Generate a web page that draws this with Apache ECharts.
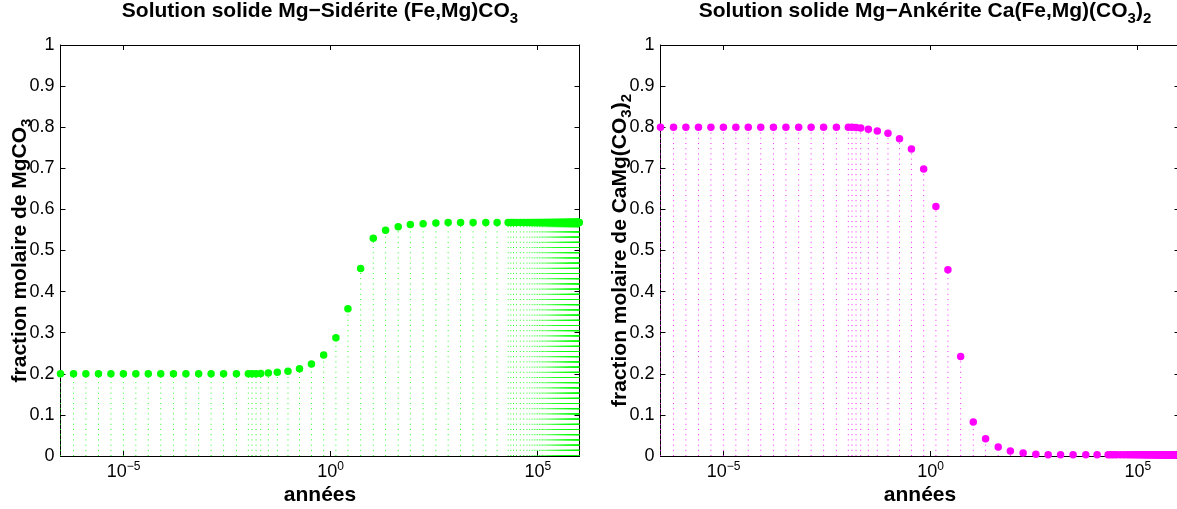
<!DOCTYPE html>
<html><head><meta charset="utf-8">
<script src="https://cdn.jsdelivr.net/npm/echarts@6/dist/echarts.min.js"></script>
<style>html,body{margin:0;padding:0;background:#fff}#c{width:1177px;height:509px}</style>
</head><body><div id="c"></div>
<script>
// ---- data (years) ----
const times = [
  3.0e-7, 6.2e-7, 1.23e-6, 2.48e-6, 4.95e-6, 9.9e-6, 1.98e-5, 3.95e-5, 7.9e-5, 1.6e-4,
  3.2e-4, 6.5e-4, 1.3e-3, 2.6e-3, 5.3e-3,
  0.0103, 0.0126, 0.0158, 0.0205, 0.0313, 0.0515, 0.0933, 0.177, 0.344, 0.678,
  1.34, 2.61, 5.3, 10.7, 21.2, 42.8, 84, 171, 347, 687,
  1370, 2750, 5580, 10450,
  19300, 22400, 26000, 30700, 38000, 46000, 55000, 64000, 73000, 82000,
  91000, 100000,
  110000, 120000, 130000, 140000, 150000, 160000, 170000, 180000, 190000, 200000,
  210000, 220000, 230000, 240000, 250000, 260000, 270000, 280000, 290000, 300000,
  310000, 320000, 330000, 340000, 350000, 360000, 370000, 380000, 390000, 400000,
  410000, 420000, 430000, 440000, 450000, 460000, 470000, 480000, 490000, 500000,
  510000, 520000, 530000, 540000, 550000, 560000, 570000, 580000, 590000, 600000,
  610000, 620000, 630000, 640000, 650000, 660000, 670000, 680000, 690000, 700000,
  710000, 720000, 730000, 740000, 750000, 760000, 770000, 780000, 790000, 800000,
  810000, 820000, 830000, 840000, 850000, 860000, 870000, 880000, 890000, 900000,
  910000, 920000, 930000, 940000, 950000, 960000, 970000, 980000, 990000, 1000000
];
// fraction molaire de MgCO3 dans la sidérite
const sideriteMg = [
  0.200, 0.200, 0.200, 0.200, 0.200, 0.200, 0.200, 0.200, 0.200, 0.200,
  0.200, 0.200, 0.200, 0.200, 0.200,
  0.200, 0.200, 0.200, 0.201, 0.202, 0.204, 0.206, 0.212, 0.224, 0.246,
  0.288, 0.358, 0.456, 0.530, 0.549, 0.558, 0.563, 0.565, 0.567, 0.568,
  0.568, 0.568, 0.568, 0.568,
  0.568, 0.568, 0.568, 0.568, 0.568, 0.568, 0.568, 0.568, 0.568, 0.568,
  0.568, 0.568,
  0.568, 0.568, 0.568, 0.568, 0.568, 0.568, 0.568, 0.568, 0.568, 0.568,
  0.568, 0.568, 0.568, 0.568, 0.568, 0.568, 0.568, 0.568, 0.568, 0.568,
  0.568, 0.568, 0.568, 0.568, 0.568, 0.568, 0.568, 0.568, 0.568, 0.568,
  0.568, 0.568, 0.568, 0.568, 0.568, 0.568, 0.568, 0.568, 0.568, 0.568,
  0.568, 0.568, 0.568, 0.568, 0.568, 0.568, 0.568, 0.568, 0.568, 0.568,
  0.568, 0.568, 0.568, 0.568, 0.568, 0.568, 0.568, 0.568, 0.568, 0.568,
  0.568, 0.568, 0.568, 0.568, 0.568, 0.568, 0.568, 0.568, 0.568, 0.568,
  0.568, 0.568, 0.568, 0.568, 0.568, 0.568, 0.568, 0.568, 0.568, 0.568,
  0.568, 0.568, 0.568, 0.568, 0.568, 0.568, 0.568, 0.568, 0.568, 0.568
];
// fraction molaire de CaMg(CO3)2 dans l'ankérite
const ankeriteMg = [
  0.800, 0.800, 0.800, 0.800, 0.800, 0.800, 0.800, 0.800, 0.800, 0.800,
  0.800, 0.800, 0.800, 0.800, 0.800,
  0.800, 0.800, 0.799, 0.798, 0.795, 0.791, 0.785, 0.772, 0.747, 0.698,
  0.607, 0.453, 0.242, 0.083, 0.042, 0.022, 0.012, 0.007, 0.004, 0.003,
  0.003, 0.003, 0.003, 0.003,
  0.003, 0.003, 0.003, 0.003, 0.003, 0.003, 0.003, 0.003, 0.003, 0.003,
  0.003, 0.003,
  0.003, 0.003, 0.003, 0.003, 0.003, 0.003, 0.003, 0.003, 0.003, 0.003,
  0.003, 0.003, 0.003, 0.003, 0.003, 0.003, 0.003, 0.003, 0.003, 0.003,
  0.003, 0.003, 0.003, 0.003, 0.003, 0.003, 0.003, 0.003, 0.003, 0.003,
  0.003, 0.003, 0.003, 0.003, 0.003, 0.003, 0.003, 0.003, 0.003, 0.003,
  0.003, 0.003, 0.003, 0.003, 0.003, 0.003, 0.003, 0.003, 0.003, 0.003,
  0.003, 0.003, 0.003, 0.003, 0.003, 0.003, 0.003, 0.003, 0.003, 0.003,
  0.003, 0.003, 0.003, 0.003, 0.003, 0.003, 0.003, 0.003, 0.003, 0.003,
  0.003, 0.003, 0.003, 0.003, 0.003, 0.003, 0.003, 0.003, 0.003, 0.003,
  0.003, 0.003, 0.003, 0.003, 0.003, 0.003, 0.003, 0.003, 0.003, 0.003
];
const xMin = 3.0e-7;
const xMax = 1.02e6;
const xTickValues = [1e-5, 1, 1e5];
const yMin = 0, yMax = 1, yStep = 0.1;
const titles = [
  'Solution solide Mg\u2212Sidérite (Fe,Mg)CO{sub|3}',
  'Solution solide Mg\u2212Ankérite Ca(Fe,Mg)(CO{sub|3}){sub|2}'
];
const yNames = [
  'fraction molaire de MgCO{sub|3}',
  'fraction molaire de CaMg(CO{sub|3}){sub|2}'
];
const xName = 'années';
const colors = ['#00ff00', '#ff00ff'];
const seriesValues = [sideriteMg, ankeriteMg];

// ---- chart ----
const FONT = 'Liberation Sans, Arial, Helvetica, sans-serif';
const BOLD = 21;
const subRich = { sub: { fontSize: 15, fontWeight: 'bold', fontFamily: FONT, color: '#000', padding: [14, 0, 0, 0], lineHeight: 15 } };
const grids = [
  { left: 60.5, top: 45, width: 519, height: 411, outerBoundsMode: 'none', containLabel: false },
  { left: 660.5, top: 45, width: 519, height: 411, outerBoundsMode: 'none', containLabel: false }
];
const titleCenters = [320, 925];
function expFmt(v) {
  const e = Math.round(Math.log10(v));
  return '10{sup|' + (e < 0 ? '\u2212' + (-e) : e) + '}';
}
function xAx(gi, pos) {
  const bottom = pos === 'bottom';
  return {
    type: 'log', logBase: 10, gridIndex: gi, position: pos, min: xMin, max: xMax,
    axisLine: { show: true, onZero: false, lineStyle: { color: '#000', width: 1 } },
    axisTick: { show: true, inside: true, length: 5, customValues: xTickValues, lineStyle: { color: '#000' } },
    minorTick: { show: false }, splitLine: { show: false }, minorSplitLine: { show: false },
    axisLabel: {
      show: bottom, customValues: xTickValues, formatter: expFmt, margin: 7,
      color: '#000', fontSize: 18, fontFamily: FONT,
      rich: { sup: { fontSize: 12, fontFamily: FONT, color: '#000', padding: [0, 0, 10, 0], lineHeight: 12 } }
    },
    name: bottom ? xName : '', nameLocation: 'middle', nameGap: 29, nameMoveOverlap: false,
    nameTextStyle: { color: '#000', fontSize: BOLD, fontWeight: 'bold', fontFamily: FONT }
  };
}
function yAx(gi, pos) {
  const left = pos === 'left';
  return {
    type: 'value', gridIndex: gi, position: pos, min: yMin, max: yMax, interval: yStep,
    axisLine: { show: true, onZero: false, lineStyle: { color: '#000', width: 1 } },
    axisTick: { show: true, inside: true, length: 5, lineStyle: { color: '#000' } },
    splitLine: { show: false },
    axisLabel: { show: left, margin: 6, color: '#000', fontSize: 18, fontFamily: FONT },
    name: left ? yNames[gi] : '', nameLocation: 'middle', nameRotate: 90, nameGap: 30, nameMoveOverlap: false,
    nameTextStyle: { color: '#000', fontSize: BOLD, fontWeight: 'bold', fontFamily: FONT, rich: subRich }
  };
}
const xAxes = [xAx(0, 'bottom'), xAx(0, 'top'), xAx(1, 'bottom'), xAx(1, 'top')];
const yAxes = [yAx(0, 'left'), yAx(0, 'right'), yAx(1, 'left'), yAx(1, 'right')];

const series = [];
seriesValues.forEach((vals, gi) => {
  const data = times.map((t, i) => [t, vals[i]]);
  series.push({
    type: 'custom', xAxisIndex: gi * 2, yAxisIndex: gi * 2, data: data, silent: true,
    renderItem: function (params, api) {
      const top = api.coord([api.value(0), api.value(1)]);
      const base = api.coord([api.value(0), 0]);
      return {
        type: 'line',
        shape: { x1: base[0], y1: base[1], x2: top[0], y2: top[1] },
        style: { stroke: colors[gi], lineWidth: 1, lineDash: [1, 4.2], opacity: 0.85 }
      };
    }
  });
  series.push({
    type: 'scatter', xAxisIndex: gi * 2, yAxisIndex: gi * 2, data: data,
    symbol: 'circle', symbolSize: 7.5, clip: false,
    itemStyle: { color: colors[gi], opacity: 1 }
  });
});

const chart = echarts.init(document.getElementById('c'), null, { renderer: 'canvas' });
chart.setOption({
  animation: false,
  backgroundColor: '#fff',
  title: titles.map((t, gi) => ({
    text: t, left: titleCenters[gi], top: 1, textAlign: 'center', padding: 0,
    textStyle: { color: '#000', fontSize: BOLD, fontWeight: 'bold', fontFamily: FONT, rich: subRich }
  })),
  grid: grids,
  xAxis: xAxes,
  yAxis: yAxes,
  series: series
});
</script>
</body></html>
